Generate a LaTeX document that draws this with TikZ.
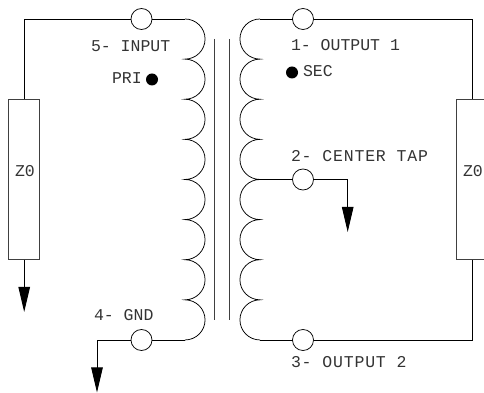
\documentclass[tikz,border=0pt]{standalone}
\usepackage{fontspec}
\setmainfont{Liberation Mono}
\usetikzlibrary{arrows.meta,calc}
\tikzset{
  wire/.style={line width=0.9pt,line join=miter},
  coilwire/.style={line width=0.75pt},
  corebar/.style={line width=0.75pt,draw=black!75},
  port/.style={circle,draw,line width=0.75pt,fill=white,minimum size=21pt,inner sep=0pt,outer sep=0pt},
  load/.style={rectangle,draw=black!75,line width=1pt,minimum width=31.5pt,minimum height=160.5pt,inner sep=0pt,outer sep=0pt},
  gnd/.style={wire,-{Triangle[length=25pt,width=11.5pt]}},
  lbl/.style={anchor=base west,inner sep=0pt,outer sep=0pt,font=\fontsize{16.5pt}{16.5pt}\selectfont,text=black!80},
  wide/.style={font=\fontsize{16.5pt}{16.5pt}\selectfont\addfontfeature{LetterSpace=5}},
  dotmark/.style={circle,fill=black,minimum size=12pt,inner sep=0pt}
}
\begin{document}
\begin{tikzpicture}[x=1pt,y=1pt]
\useasboundingbox (0,0) rectangle (484,393);
% coils
\coordinate (LT) at (185,374);
\coordinate (LB) at (185,53);
\coordinate (RT) at (260,374);
\coordinate (RB) at (260,53);
\coordinate (RC) at (260,213.5);
\draw[coilwire] (LT) \foreach \i in {1,...,8} {arc[start angle=90,end angle=-90,radius=20.06pt]};
\draw[coilwire] (RT) \foreach \i in {1,...,8} {arc[start angle=90,end angle=270,radius=20.06pt]};
% core
\coordinate (c1t) at (214.7,354);
\coordinate (c1b) at (214.7,73);
\coordinate (c2t) at (229.7,354);
\coordinate (c2b) at (229.7,73);
\draw[corebar] (c1t) -- (c1b);
\draw[corebar] (c2t) -- (c2b);
% loads
\node[load] (zl) at (24.2,213.25) {};
\node[load] (zr) at (472.7,213.25) {};
% ports
\node[port] (p5) at (141.5,374) {};
\node[port] (p4) at (141.5,53) {};
\node[port] (p1) at (303,374) {};
\node[port] (p2) at (303,213.5) {};
\node[port] (p3) at (303,53) {};
% grounds
\coordinate (g1) at (24.2,81);
\coordinate (g2) at (97,0.5);
\coordinate (g3) at (347.7,161);
% connectors
\draw[wire] (LT) -- (p5.east);
\draw[wire] (p5.west) -| (zl.north);
\draw[gnd] (zl.south) -- (g1);
\draw[wire] (LB) -- (p4.east);
\draw[gnd] (p4.west) -| (g2);
\draw[wire] (RT) -- (p1.west);
\draw[wire] (p1.east) -| (zr.north);
\draw[wire] (RC) -- (p2.west);
\draw[gnd] (p2.east) -| (g3);
\draw[wire] (RB) -- (p3.west);
\draw[wire] (p3.east) -| (zr.south);
% dots
\node[dotmark] (dp) at (152,313.5) {};
\node[dotmark] (ds) at (292,320.5) {};
% labels
\node[lbl] (t5) at (91,341) {5- INPUT};
\node[lbl] (tp) at (112,309) {PRI};
\node[lbl] (tz1) at (15,216) {Z0};
\node[lbl] (t4) at (94,72) {4- GND};
\node[lbl] (t1) at (291,342) {1- OUTPUT 1};
\node[lbl] (ts) at (303,316) {SEC};
\node[lbl,wide] (t2) at (291,231) {2- CENTER TAP};
\node[lbl] (tz2) at (463,216) {Z0};
\node[lbl,wide] (t3) at (291,25) {3- OUTPUT 2};
\end{tikzpicture}
\end{document}
